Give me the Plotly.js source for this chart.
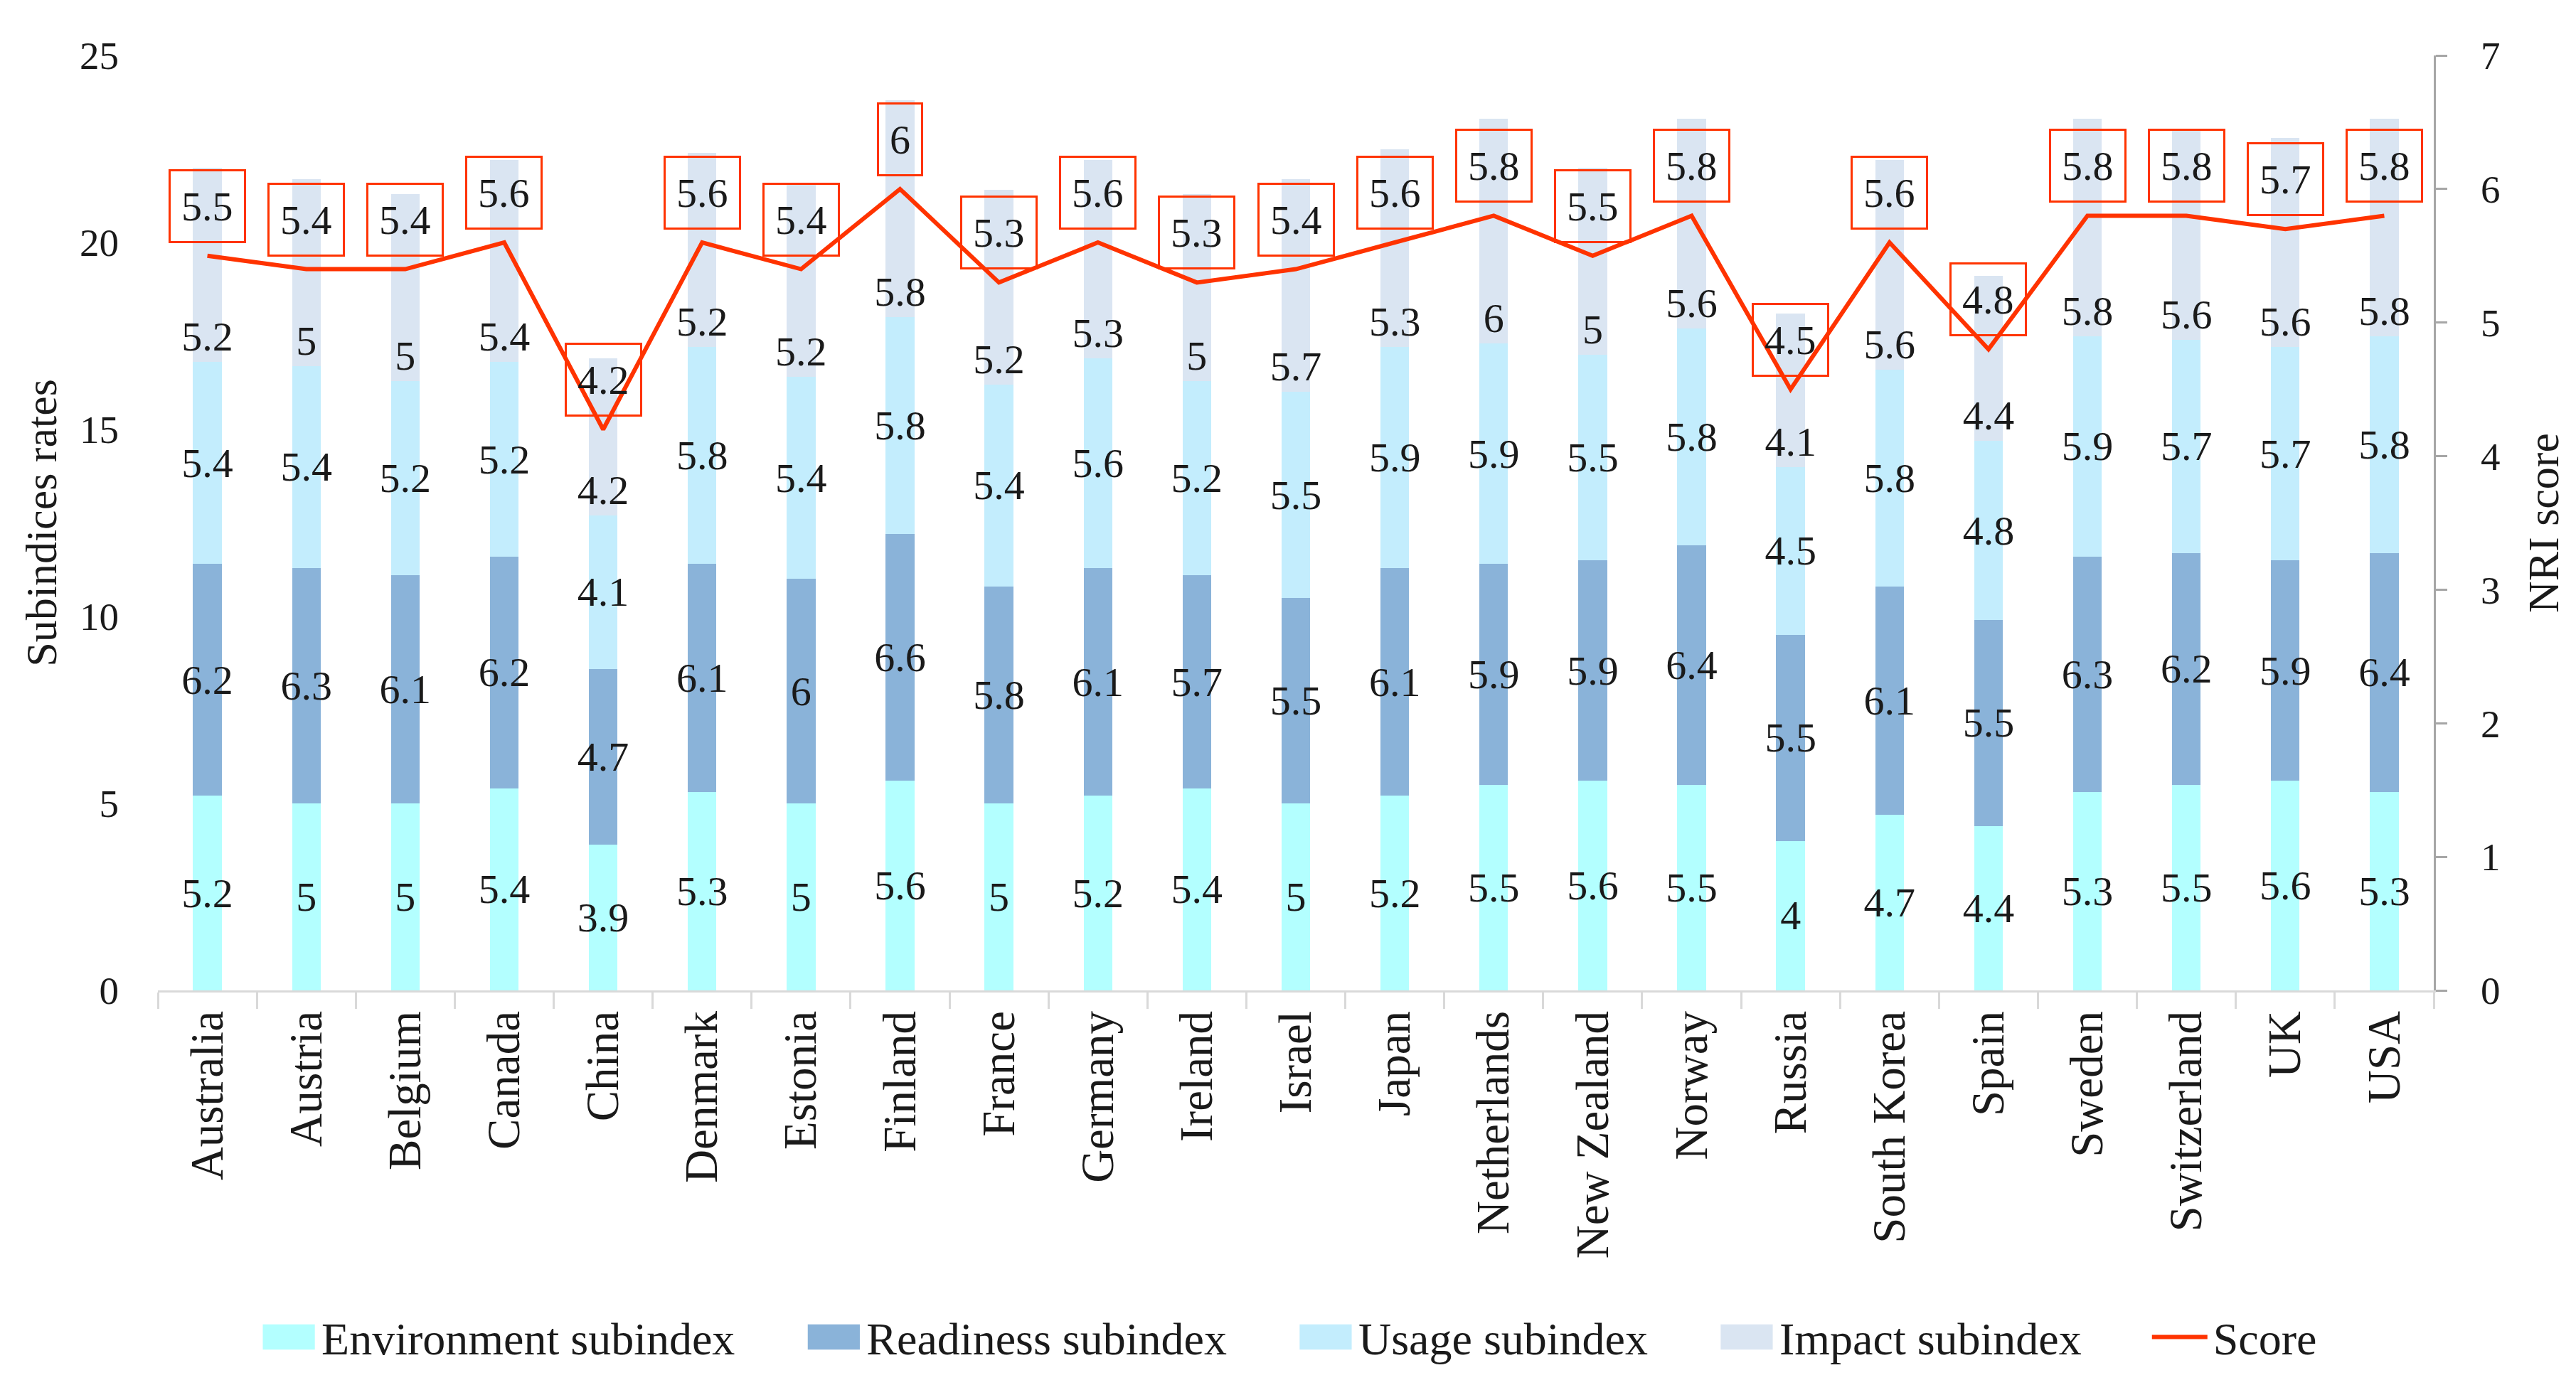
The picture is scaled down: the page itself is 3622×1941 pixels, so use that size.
<!DOCTYPE html>
<html>
<head>
<meta charset="utf-8">
<script src="https://cdn.plot.ly/plotly-3.0.1.min.js"></script>
<style>
  html, body { margin: 0; padding: 0; background: #ffffff; }
  #chart { width: 3622px; height: 1941px; }
</style>
</head>
<body>
<div id="chart"></div>
<script>
const countries = ["Australia", "Austria", "Belgium", "Canada", "China", "Denmark", "Estonia", "Finland", "France", "Germany", "Ireland", "Israel", "Japan", "Netherlands", "New Zealand", "Norway", "Russia", "South Korea", "Spain", "Sweden", "Switzerland", "UK", "USA"];
const environment = [5.2, 5, 5, 5.4, 3.9, 5.3, 5, 5.6, 5, 5.2, 5.4, 5, 5.2, 5.5, 5.6, 5.5, 4, 4.7, 4.4, 5.3, 5.5, 5.6, 5.3];
const readiness = [6.2, 6.3, 6.1, 6.2, 4.7, 6.1, 6, 6.6, 5.8, 6.1, 5.7, 5.5, 6.1, 5.9, 5.9, 6.4, 5.5, 6.1, 5.5, 6.3, 6.2, 5.9, 6.4];
const usage = [5.4, 5.4, 5.2, 5.2, 4.1, 5.8, 5.4, 5.8, 5.4, 5.6, 5.2, 5.5, 5.9, 5.9, 5.5, 5.8, 4.5, 5.8, 4.8, 5.9, 5.7, 5.7, 5.8];
const impact = [5.2, 5, 5, 5.4, 4.2, 5.2, 5.2, 5.8, 5.2, 5.3, 5, 5.7, 5.3, 6, 5, 5.6, 4.1, 5.6, 4.4, 5.8, 5.6, 5.6, 5.8];
const score = [5.5, 5.4, 5.4, 5.6, 4.2, 5.6, 5.4, 6, 5.3, 5.6, 5.3, 5.4, 5.6, 5.8, 5.5, 5.8, 4.5, 5.6, 4.8, 5.8, 5.8, 5.7, 5.8];
const leftTicks = [0, 5, 10, 15, 20, 25];
const rightTicks = [0, 1, 2, 3, 4, 5, 6, 7];

const FONT = "Liberation Serif, Times New Roman, serif";
const TXT = "#1a1a1a";
const LABEL_SIZE = 58;

function barTrace(name, values, color, anchor) {
  return {
    type: "bar",
    name: name,
    x: countries,
    y: values,
    marker: { color: color, line: { width: 0 } },
    text: values.map(v => String(v)),
    texttemplate: "%{text}",
    textposition: "inside",
    insidetextanchor: anchor,
    textangle: 0,
    constraintext: "none",
    insidetextfont: { family: FONT, size: LABEL_SIZE, color: TXT },
    cliponaxis: false,
    hoverinfo: "x+y+name"
  };
}

const traces = [
  barTrace("Environment subindex", environment, "#B3FFFF", "middle"),
  barTrace("Readiness subindex", readiness, "#8AB3D9", "middle"),
  barTrace("Usage subindex", usage, "#C3EDFD", "middle"),
  barTrace("Impact subindex", impact, "#DAE5F2", "start"),
  {
    type: "scatter",
    mode: "lines",
    name: "Score",
    x: countries,
    y: score,
    yaxis: "y2",
    line: { color: "#FF3300", width: 6 },
    cliponaxis: false
  }
];

const annotations = countries.map((c, i) => ({
  x: c,
  y: score[i],
  xref: "x",
  yref: "y2",
  text: String(score[i]),
  showarrow: false,
  yshift: 70,
  height: 68,
  font: { family: FONT, size: LABEL_SIZE, color: TXT },
  bordercolor: "#FF3300",
  borderwidth: 3,
  borderpad: 15,
  bgcolor: "rgba(0,0,0,0)"
}));

const layout = {
  width: 3622,
  height: 1941,
  margin: { l: 222, r: 200, t: 78, b: 548 },
  paper_bgcolor: "#ffffff",
  plot_bgcolor: "#ffffff",
  font: { family: FONT, size: 58, color: TXT },
  barmode: "stack",
  bargap: 0.71,
  showlegend: true,
  legend: {
    orientation: "h",
    x: 0.483,
    xanchor: "center",
    y: -0.371,
    yanchor: "middle",
    traceorder: "normal",
    font: { family: FONT, size: 64, color: TXT },
    itemwidth: 170,
    bgcolor: "rgba(0,0,0,0)"
  },
  xaxis: {
    type: "category",
    tickangle: -90,
    tickfont: { family: FONT, size: 65, color: TXT },
    showline: true,
    linecolor: "#D9D9D9",
    linewidth: 3,
    ticks: "outside",
    tickson: "boundaries",
    ticklen: 23,
    tickwidth: 3,
    tickcolor: "#D9D9D9",
    showgrid: false,
    zeroline: false,
    automargin: false
  },
  yaxis: {
    range: [0, 25],
    tickvals: leftTicks,
    ticktext: leftTicks.map(String),
    tickfont: { family: FONT, size: 55, color: TXT },
    ticks: "",
    ticklabelstandoff: 54,
    showline: false,
    showgrid: false,
    zeroline: false,
    automargin: false,
    title: { text: "Subindices rates", font: { family: FONT, size: 62, color: TXT }, standoff: 12 }
  },
  yaxis2: {
    range: [0, 7],
    overlaying: "y",
    side: "right",
    tickvals: rightTicks,
    ticktext: rightTicks.map(String),
    tickfont: { family: FONT, size: 55, color: TXT },
    showline: true,
    linecolor: "#A6A6A6",
    linewidth: 3,
    ticks: "outside",
    ticklen: 16,
    tickwidth: 3,
    tickcolor: "#A6A6A6",
    ticklabelstandoff: 36,
    showgrid: false,
    zeroline: false,
    automargin: false,
    title: { text: "NRI score", font: { family: FONT, size: 62, color: TXT }, standoff: 40 }
  },
  annotations: annotations
};

// place enlarged legend swatches right before each legend label
function fixLegend(gd) {
  gd.querySelectorAll(".legend g.traces").forEach(g => {
    const t = g.querySelector("text.legendtext");
    if (!t) return;
    const tx = parseFloat(t.getAttribute("x")) || 0;
    g.querySelectorAll("g.legendpoints path").forEach(p => {
      p.setAttribute("transform", "translate(" + (tx - 46) + ",0) scale(6.1,2.95)");
    });
    g.querySelectorAll("g.legendlines path").forEach(p => {
      p.setAttribute("d", "M" + (tx - 86) + ",0h78");
      p.removeAttribute("transform");
    });
  });
}

Plotly.newPlot("chart", traces, layout, { displayModeBar: false, staticPlot: true }).then(gd => {
  fixLegend(gd);
});
</script>
</body>
</html>
